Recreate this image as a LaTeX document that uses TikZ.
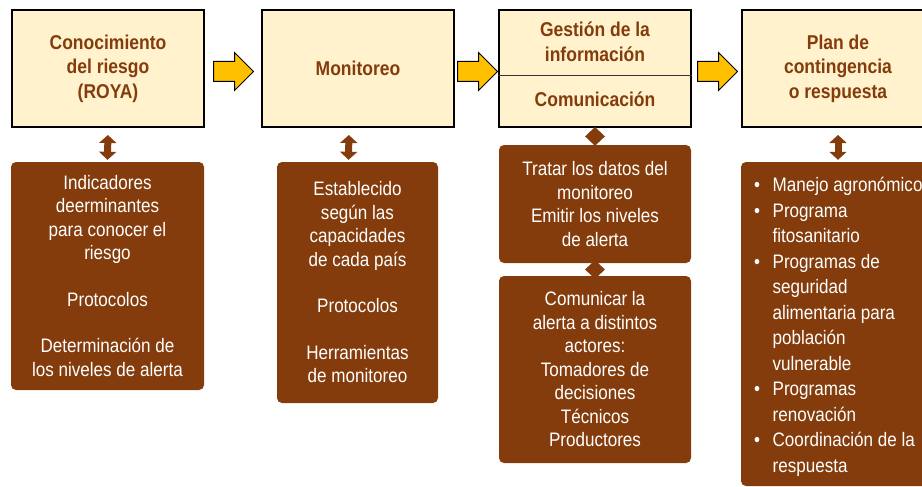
\documentclass[tikz,border=0pt]{standalone}
\usepackage{fontspec}
\setmainfont{Liberation Sans}[FakeStretch=0.875]
\usetikzlibrary{shapes.arrows,shapes.geometric,arrows.meta,calc}
\definecolor{cafe}{HTML}{843C0C}
\definecolor{crema}{HTML}{FFF2CC}
\definecolor{amarillo}{HTML}{FFC000}
\begin{document}
\begin{tikzpicture}[x=1pt,y=-1pt,
 etapa/.style={draw=black,line width=2pt,fill=crema,minimum width=192pt,minimum height=117pt,inner sep=0pt},
 titulo/.style={text=cafe,font=\bfseries\fontsize{20}{24.5}\selectfont,align=center},
 detalle/.style={fill=cafe,rounded corners=5pt,text=white,font=\fontsize{19.5}{23.5}\selectfont,align=center,inner sep=0pt},
 flecha/.style={single arrow,draw=black,line width=1pt,fill=amarillo,minimum height=40pt,single arrow head extend=9pt,inner xsep=0pt,inner ysep=9.5pt,anchor=tail},
 enlace/.style={draw=cafe,line width=7pt,{Triangle[width=17pt,length=8pt]}-{Triangle[width=17pt,length=8pt]},shorten <=7pt,shorten >=2pt},
 rombo/.style={diamond,fill=cafe,minimum width=20pt,minimum height=19pt,inner sep=0pt}]
 \clip (0,0) rectangle (922,487);

 %top boxes
 \node[etapa,titulo] (riesgo) at (108,68.5) {Conocimiento\\del riesgo\\(ROYA)};
 \node[etapa,titulo] (monitoreo) at (358,68.5) {Monitoreo};
 \node[etapa] (gestion) at (595,68.5) {};
 \node[etapa,titulo] (plan) at (838,68.5) {Plan de\\contingencia\\o respuesta};

 %split of the third box
 \coordinate (corte) at (595,76);
 \draw[line width=1pt,black!80] (gestion.west |- corte) -- (gestion.east |- corte);
 \node[titulo] (gestionA) at (595,42) {Gesti\'on de la\\informaci\'on};
 \node[titulo] (gestionB) at (595,99) {Comunicaci\'on};

 %yellow arrows between stages
 \node[flecha] (f1) at ($(riesgo.east)+(8,3)$) {};
 \node[flecha] (f2) at ($(monitoreo.east)+(2,3)$) {};
 \node[flecha] (f3) at ($(gestion.east)+(5,3)$) {};

 %detail boxes
 \node[detalle,minimum width=193pt,minimum height=228pt] (riesgob) at (107.5,276) {Indicadores\\deerminantes\\para conocer el\\riesgo\\[23pt]Protocolos\\[23pt]Determinaci\'on de\\los niveles de alerta};
 \node[detalle,minimum width=161pt,minimum height=241pt] (monitoreob) at (357.5,282.5) {Establecido\\seg\'un las\\capacidades\\de cada pa\'is\\[23pt]Protocolos\\[23pt]Herramientas\\de monitoreo};
 \node[detalle,minimum width=192pt,minimum height=118pt] (tratar) at (595,204) {Tratar los datos del\\monitoreo\\Emitir los niveles\\de alerta};
 \node[detalle,minimum width=192pt,minimum height=187pt] (comunicar) at (595,369.5) {Comunicar la\\alerta a distintos\\actores:\\Tomadores de\\decisiones\\T\'ecnicos\\Productores};
 \node[detalle,minimum width=194pt,minimum height=324pt] (planb) at (838,324) {};
 \node[text=white,anchor=west,inner sep=0pt,font=\fontsize{19.5}{25.5}\selectfont] (lista) at (754,327) {%
  \begin{tabular}{@{}l@{\hspace{12.5pt}}l@{}}
  \textbullet & Manejo agron\'omico\\
  \textbullet & Programa\\
   & fitosanitario\\
  \textbullet & Programas de\\
   & seguridad\\
   & alimentaria para\\
   & poblaci\'on\\
   & vulnerable\\
  \textbullet & Programas\\
   & renovaci\'on\\
  \textbullet & Coordinaci\'on de la\\
   & respuesta
  \end{tabular}};

 %links to the detail boxes
 \draw[enlace] (riesgo.south) -- (riesgob.north);
 \draw[enlace] ([xshift=-9pt]monitoreo.south) -- ([xshift=-9pt]monitoreob.north);
 \draw[enlace] (plan.south) -- (planb.north);
 \node[rombo] (r1) at ($(gestion.south)!0.5!(tratar.north)$) {};
 \node[rombo] (r2) at ($(tratar.south)!0.5!(comunicar.north)$) {};
\end{tikzpicture}
\end{document}
